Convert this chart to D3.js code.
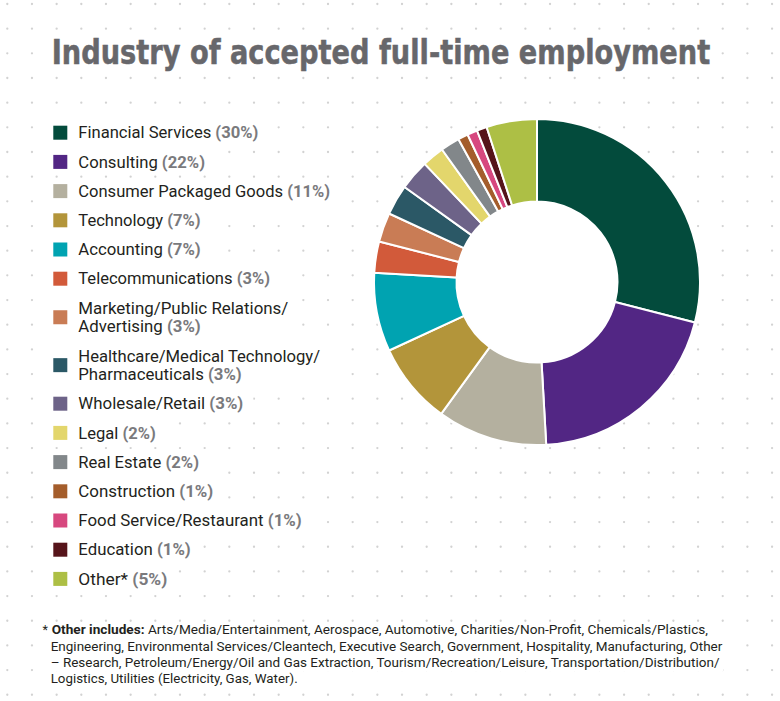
<!DOCTYPE html>
<html>
<head>
<meta charset="utf-8">
<script src="https://cdn.jsdelivr.net/npm/d3@7"></script>
<style>
  html, body { margin: 0; padding: 0; background: #ffffff; }
  svg { display: block; }
</style>
</head>
<body>
<script>
// ---------------- DATA ----------------
const categories = [
  "Financial Services", "Consulting", "Consumer Packaged Goods", "Technology",
  "Accounting", "Telecommunications", "Marketing/Public Relations/Advertising",
  "Healthcare/Medical Technology/Pharmaceuticals", "Wholesale/Retail", "Legal",
  "Real Estate", "Construction", "Food Service/Restaurant", "Education", "Other*"
];
// legend text split into lines
const legendLines = [
  ["Financial Services"], ["Consulting"], ["Consumer Packaged Goods"], ["Technology"],
  ["Accounting"], ["Telecommunications"], ["Marketing/Public Relations/", "Advertising"],
  ["Healthcare/Medical Technology/", "Pharmaceuticals"], ["Wholesale/Retail"], ["Legal"],
  ["Real Estate"], ["Construction"], ["Food Service/Restaurant"], ["Education"], ["Other*"]
];
const percentLabels = ["30%", "22%", "11%", "7%", "7%", "3%", "3%", "3%", "3%", "2%", "2%", "1%", "1%", "1%", "5%"];
// slice sizes as drawn in the picture (share of the ring)
const values = [29, 20.1, 10.9, 8.1, 7.8, 3.1, 2.9, 3.0, 3.0, 2.2, 1.9, 1.0, 1.0, 1.0, 5.0];
const colors = [
  "#034b3c", "#522684", "#b4b09f", "#b3953a", "#00a3b1", "#d25a3a", "#c97c55",
  "#2b5866", "#6d6388", "#e3d66c", "#82878a", "#a45d2b", "#d7487f", "#56141a", "#adbf45"
];
const titleText = "Industry of accepted full-time employment";
const footnoteLead = "Other includes:";
const footnoteLines = [
  " Arts/Media/Entertainment, Aerospace, Automotive, Charities/Non-Profit, Chemicals/Plastics,",
  "Engineering, Environmental Services/Cleantech, Executive Search, Government, Hospitality, Manufacturing, Other",
  "\u2013 Research, Petroleum/Energy/Oil and Gas Extraction, Tourism/Recreation/Leisure, Transportation/Distribution/",
  "Logistics, Utilities (Electricity, Gas, Water)."
];

// ---------------- LAYOUT ----------------
const W = 780, H = 701;
const svg = d3.select("body").append("svg").attr("width", W).attr("height", H);

// dotted background grid
const dotStep = 24.67, dotX0 = 7.3, dotY0 = 4;
const dots = [];
for (let y = dotY0; y < H; y += dotStep)
  for (let x = dotX0; x < W; x += dotStep) dots.push([x, y]);
svg.append("g").selectAll("circle").data(dots).join("circle")
  .attr("cx", d => d[0]).attr("cy", d => d[1]).attr("r", 1.15).attr("fill", "#d2d2d2");

// ---------------- TITLE ----------------
const titleG = svg.append("g");
const titleBg = titleG.append("rect").attr("fill", "#fff");
const title = titleG.append("text")
  .attr("x", 51.7).attr("y", 64)
  .attr("font-family", "'DejaVu Sans Condensed', 'Liberation Sans Narrow', 'Roboto', sans-serif")
  .attr("font-weight", "bold").attr("font-size", 33.5)
  .attr("fill", "#67676b")
  .attr("stroke", "#67676b").attr("stroke-width", 0.5)
  .text(titleText);
title.attr("textLength", 658.5).attr("lengthAdjust", "spacingAndGlyphs");
titleBg.attr("x", 46).attr("y", 34).attr("width", 670).attr("height", 40);

// ---------------- LEGEND ----------------
const legendFont = "'Roboto', 'Liberation Sans', sans-serif";
const legFontSize = 16;
const itemGap = 29.2, lineGap = 18.7;
// right ends of each legend line (layout)
const legEnds = [[258.3], [205], [330], [200.7], [200.7], [270], [288.3, 200.7],
  [320, 241.7], [243.3], [155.7], [199], [213.3], [301.7], [190.7], [167.3]];
let cy = 132.7;
const legendItems = categories.map((c, i) => {
  const lines = legendLines[i];
  const item = { i, lines, first: cy, last: cy + (lines.length - 1) * lineGap };
  cy = item.last + itemGap;
  return item;
});
const legBg = svg.append("g");
const leg = svg.append("g");
const textX = 78.3;
legendItems.forEach(it => {
  const g = leg.append("g");
  const mid = (it.first + it.last) / 2;
  g.append("rect").attr("x", 53.3).attr("y", mid - 7).attr("width", 14).attr("height", 14)
    .attr("fill", colors[it.i]);
  let maxEnd = 0;
  it.lines.forEach((ln, k) => {
    const t = g.append("text").attr("x", textX).attr("y", it.first + k * lineGap + 5.7)
      .attr("font-family", legendFont).attr("font-size", legFontSize).attr("fill", "#231f20");
    t.append("tspan").text(ln);
    if (k === it.lines.length - 1) {
      t.append("tspan").attr("font-weight", "bold").attr("fill", "#7a7a7d").text(" (" + percentLabels[it.i] + ")");
    }
    const target = legEnds[it.i][k] - textX;
    t.attr("textLength", target).attr("lengthAdjust", "spacingAndGlyphs");
    maxEnd = Math.max(maxEnd, legEnds[it.i][k]);
  });
  legBg.append("rect").attr("x", 45).attr("y", it.first - 13)
    .attr("width", maxEnd - 45 + 10).attr("height", it.last - it.first + 26).attr("fill", "#fff");
});

// ---------------- DONUT ----------------
const cx = 537, cyD = 282, R = 163, r0 = 80.5;
const pie = d3.pie().sort(null).value(d => d)
  .startAngle(0).endAngle(2 * Math.PI);
const arc = d3.arc().innerRadius(r0).outerRadius(R);
const dg = svg.append("g").attr("transform", `translate(${cx},${cyD})`);
dg.append("circle").attr("r", R + 2).attr("fill", "#fff");
dg.selectAll("path").data(pie(values)).join("path")
  .attr("d", arc)
  .attr("fill", (d, i) => colors[i])
  .attr("stroke", "#fff").attr("stroke-width", 2).attr("stroke-linejoin", "round");

// ---------------- FOOTNOTE ----------------
const fnFont = "'Roboto', 'Liberation Sans', sans-serif";
const fnBase = [634, 650.6, 667, 683.4];
const fnStart = [51.7, 50.7, 50.7, 50.7];
const fnEnd = [708, 722.3, 719.5, 297.7];
const fnBg = svg.append("g");
const fn = svg.append("g");
fn.append("text").attr("x", 42.5).attr("y", fnBase[0] - 0.5)
  .attr("font-family", fnFont).attr("font-size", 12.5).attr("fill", "#231f20").text("*");
footnoteLines.forEach((ln, k) => {
  const t = fn.append("text").attr("x", fnStart[k]).attr("y", fnBase[k])
    .attr("font-family", fnFont).attr("font-size", 13.2).attr("fill", "#231f20");
  if (k === 0) t.append("tspan").attr("font-weight", "bold").text(footnoteLead);
  t.append("tspan").text(ln);
  t.attr("textLength", fnEnd[k] - fnStart[k]).attr("lengthAdjust", "spacingAndGlyphs");
  fnBg.append("rect").attr("x", 40).attr("y", fnBase[k] - 11.5)
    .attr("width", fnEnd[k] - 40 + 4).attr("height", 15.5).attr("fill", "#fff");
});
</script>
</body>
</html>
